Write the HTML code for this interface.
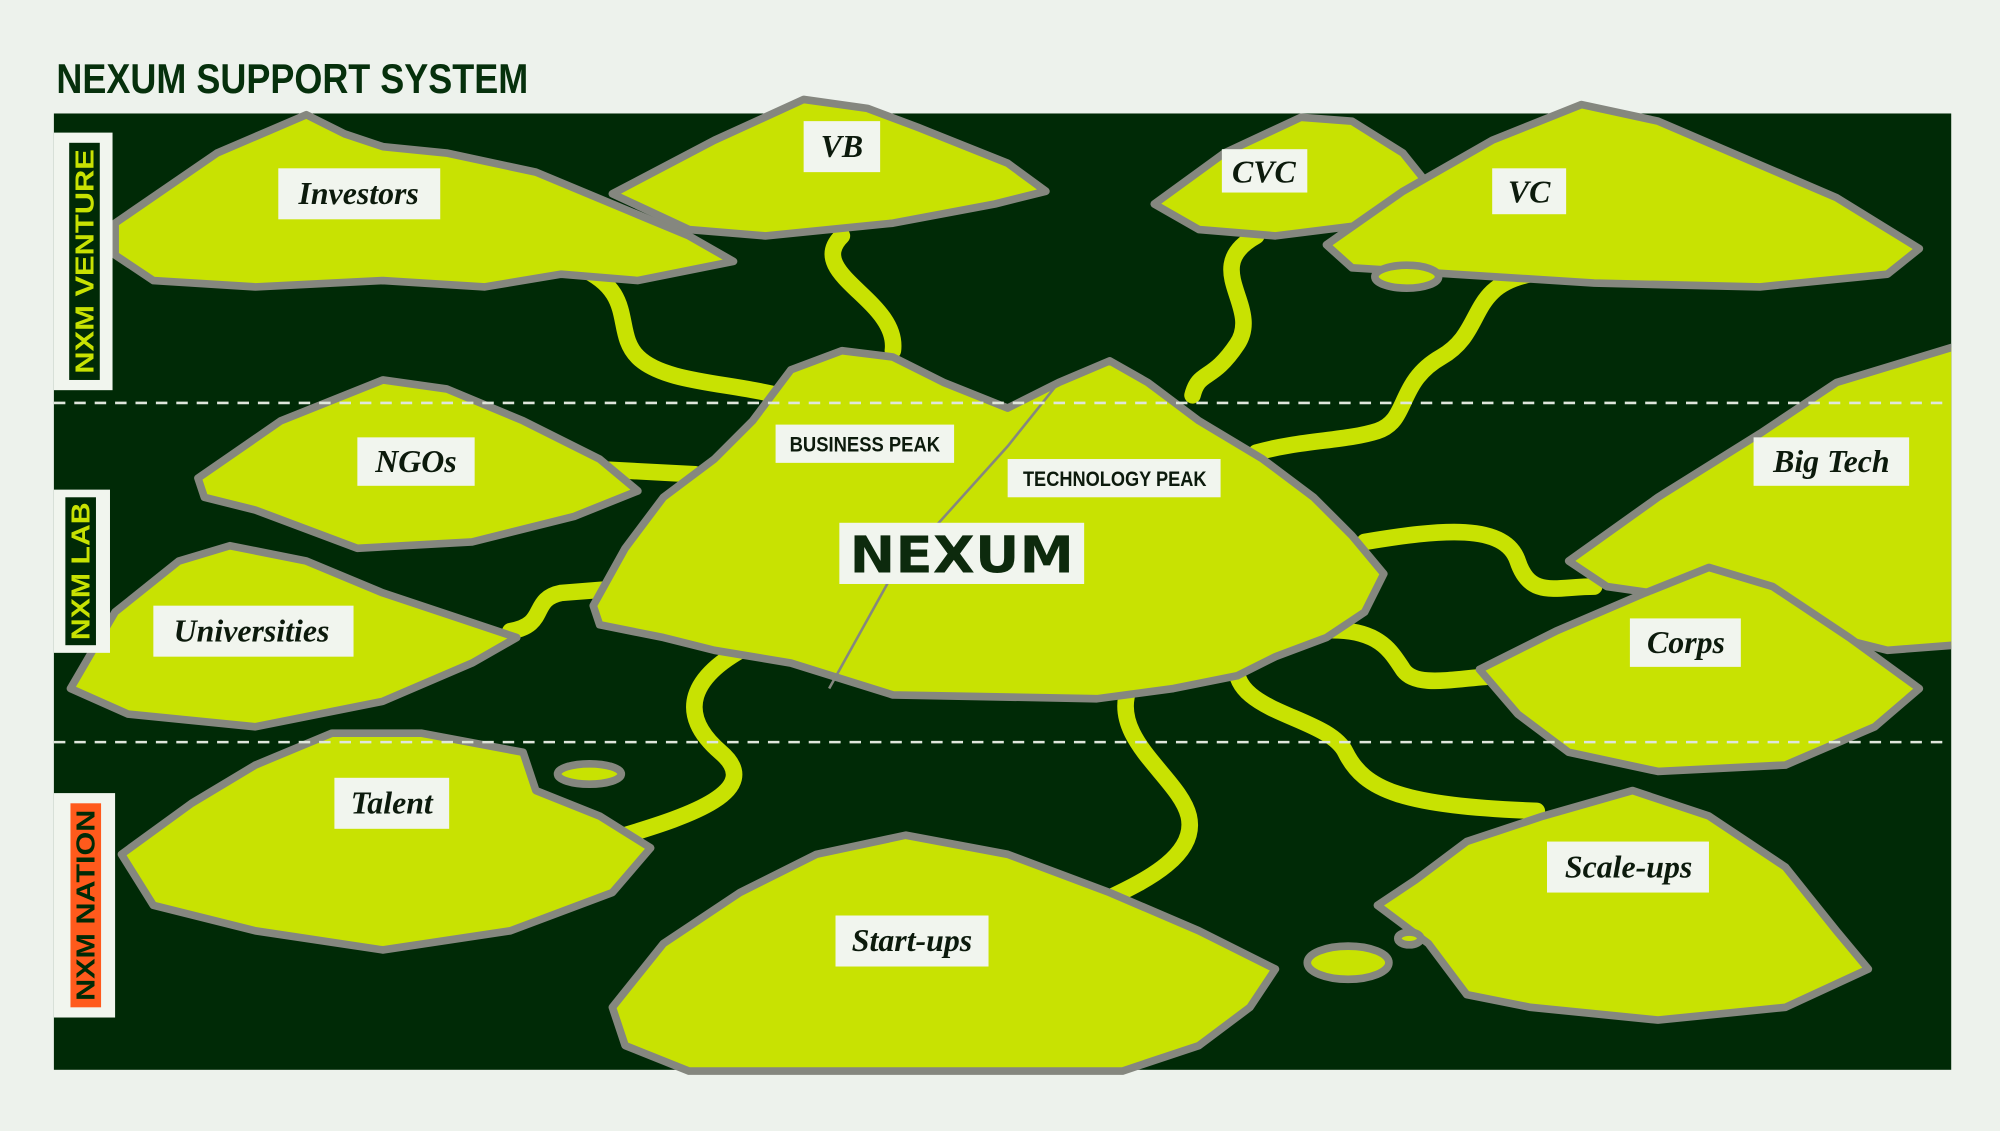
<!DOCTYPE html>
<html><head><meta charset="utf-8">
<style>
html,body{margin:0;padding:0;background:#edf2ec;}
svg{display:block;}
.lab{font-family:"Liberation Serif",serif;font-style:italic;font-weight:bold;font-size:25px;fill:#0c1a0c;text-anchor:middle;}
.pk{font-family:"Liberation Sans",sans-serif;font-size:17px;fill:#0c1a0c;text-anchor:middle;}
.mt{fill:#c8e202;stroke:#85877f;stroke-width:6;stroke-linejoin:round;}
.rv{fill:none;stroke:#c8e202;stroke-width:13;stroke-linecap:round;}
.pp{fill:#f1f5ee;}
</style></head>
<body>
<svg width="2000" height="1131" viewBox="0 0 1568 887" xmlns="http://www.w3.org/2000/svg">
<defs><clipPath id="fr"><rect x="42" y="60" width="1488" height="779"/></clipPath></defs>
<rect width="1568" height="887" fill="#edf2ec"/>
<text x="44" y="73" font-family="Liberation Sans, sans-serif" font-weight="bold" font-size="33" fill="#06300c" textLength="370" lengthAdjust="spacingAndGlyphs">NEXUM SUPPORT SYSTEM</text>
<rect x="42" y="89" width="1488" height="750" fill="#002a06"/>
<!-- rivers -->
<path class="rv" d="M455,210 C500,230 480,260 500,280 S570,300 610,310"/>
<path class="rv" d="M660,185 C630,215 705,235 700,275"/>
<path class="rv" d="M985,185 C940,210 990,240 970,270 S940,290 935,310"/>
<path class="rv" d="M1200,215 C1150,225 1165,260 1130,280 S1105,330 1080,338 S1020,345 985,355"/>
<path class="rv" d="M470,368 L545,372"/>
<path class="rv" d="M400,495 C430,490 415,470 440,465 L478,462"/>
<path class="rv" d="M1070,425 C1130,415 1180,410 1190,440 S1220,460 1250,460"/>
<path class="rv" d="M1030,495 C1080,490 1090,510 1100,525 S1140,532 1175,530"/>
<path class="rv" d="M590,505 C540,530 530,560 565,590 S540,640 490,655"/>
<path class="rv" d="M885,540 C870,580 925,610 932,640 S900,690 868,705"/>
<path class="rv" d="M970,515 C960,560 1040,560 1055,590 S1100,632 1205,636"/>
<!-- mountains -->
<polygon class="mt" points="90,175 170,120 240,90 270,105 300,115 350,120 420,135 480,160 540,185 575,205 500,220 440,215 380,225 300,220 200,225 120,220 90,200"/>
<polygon class="mt" points="480,152 560,110 630,78 680,85 720,100 790,128 820,150 780,160 700,175 600,185 540,180"/>
<polygon class="mt" points="905,160 960,120 1020,92 1060,95 1100,120 1120,145 1080,175 1000,185 940,180"/>
<polygon class="mt" points="1040,192 1100,150 1170,110 1240,82 1300,95 1370,125 1440,155 1505,195 1480,215 1380,225 1250,222 1140,215 1060,210"/>
<ellipse class="mt" cx="1103" cy="217" rx="25" ry="9"/>
<g clip-path="url(#fr)">
<polygon class="mt" points="1230,440 1300,390 1380,340 1440,300 1545,268 1545,505 1480,510 1400,490 1330,470 1260,460"/>
</g>
<polygon class="mt" points="155,375 220,330 300,298 350,305 410,330 470,360 500,385 450,405 370,425 280,430 200,400 160,390"/>
<polygon class="mt" points="55,540 90,480 140,440 180,428 240,440 300,465 360,485 405,500 370,520 300,550 200,570 100,560"/>
<polygon class="mt" points="465,475 490,430 520,390 560,360 590,330 620,290 660,275 700,280 740,300 790,320 830,300 870,283 900,300 940,330 990,360 1030,390 1060,420 1085,450 1070,480 1040,500 1000,515 970,530 920,540 860,548 700,545 620,520 560,510 520,500 470,490"/>
<path d="M830,300 L790,350 L700,450 L650,540" fill="none" stroke="#85877f" stroke-width="2"/>
<polygon class="mt" points="1160,525 1220,495 1290,465 1340,445 1390,460 1450,500 1505,540 1470,570 1400,600 1300,605 1230,590 1190,560"/>
<polygon class="mt" points="95,670 150,630 200,600 260,575 330,575 410,590 420,620 470,640 510,665 480,700 400,730 300,745 200,730 120,710"/>
<ellipse class="mt" cx="462" cy="607" rx="25" ry="8"/>
<polygon class="mt" points="480,790 520,740 580,700 640,670 710,655 790,670 870,700 940,730 1000,760 980,790 940,820 880,840 540,840 490,820"/>
<polygon class="mt" points="1080,710 1110,690 1150,660 1210,640 1280,620 1340,640 1400,680 1440,730 1465,760 1400,790 1300,800 1200,790 1150,780 1120,740"/>
<ellipse class="mt" cx="1057" cy="755" rx="32" ry="13"/>
<ellipse class="mt" cx="1105" cy="736" rx="9" ry="5"/>
<!-- dashed lines -->
<line x1="42" y1="316" x2="1530" y2="316" stroke="#dfe6dc" stroke-width="2" stroke-dasharray="9,7"/>
<line x1="42" y1="582" x2="1530" y2="582" stroke="#dfe6dc" stroke-width="2" stroke-dasharray="9,7"/>
<!-- left badges -->
<rect x="42" y="104" width="46" height="202" fill="#f1f5ee"/>
<rect x="54" y="112" width="24" height="186" fill="#002a06"/>
<text transform="translate(73,205) rotate(-90)" font-family="Liberation Sans,sans-serif" font-weight="bold" font-size="20" fill="#c8e202" text-anchor="middle" textLength="176" lengthAdjust="spacingAndGlyphs">NXM VENTURE</text>
<rect x="42" y="384" width="44" height="128" fill="#f1f5ee"/>
<rect x="51" y="390" width="24" height="116" fill="#002a06"/>
<text transform="translate(70,448) rotate(-90)" font-family="Liberation Sans,sans-serif" font-weight="bold" font-size="20" fill="#c8e202" text-anchor="middle" textLength="108" lengthAdjust="spacingAndGlyphs">NXM LAB</text>
<rect x="42" y="622" width="48" height="176" fill="#f1f5ee"/>
<rect x="55" y="630" width="24" height="160" fill="#ff5a1c"/>
<text transform="translate(74,710) rotate(-90)" font-family="Liberation Sans,sans-serif" font-weight="bold" font-size="20" fill="#002a06" text-anchor="middle" textLength="150" lengthAdjust="spacingAndGlyphs">NXM NATION</text>
<!-- labels -->
<rect class="pp" x="218" y="132" width="127" height="40"/><text class="lab" x="281" y="160">Investors</text>
<rect class="pp" x="630" y="95" width="60" height="40"/><text class="lab" x="660" y="123">VB</text>
<rect class="pp" x="958" y="117" width="67" height="34"/><text class="lab" x="991" y="143">CVC</text>
<rect class="pp" x="1170" y="132" width="58" height="36"/><text class="lab" x="1199" y="159">VC</text>
<rect class="pp" x="280" y="343" width="92" height="38"/><text class="lab" x="326" y="370">NGOs</text>
<rect class="pp" x="120" y="475" width="157" height="40"/><text class="lab" x="197" y="503">Universities</text>
<rect class="pp" x="262" y="610" width="90" height="40"/><text class="lab" x="307" y="638">Talent</text>
<rect class="pp" x="655" y="718" width="120" height="40"/><text class="lab" x="715" y="746">Start-ups</text>
<rect class="pp" x="1213" y="660" width="127" height="40"/><text class="lab" x="1277" y="688">Scale-ups</text>
<rect class="pp" x="1278" y="485" width="87" height="38"/><text class="lab" x="1322" y="512">Corps</text>
<rect class="pp" x="1375" y="343" width="122" height="38"/><text class="lab" x="1436" y="370">Big Tech</text>
<rect class="pp" x="608" y="333" width="140" height="30"/><text class="pk" x="678" y="354" font-weight="bold" textLength="118" lengthAdjust="spacingAndGlyphs">BUSINESS PEAK</text>
<rect class="pp" x="790" y="360" width="167" height="30"/><text class="pk" x="874" y="381" font-weight="bold" textLength="144" lengthAdjust="spacingAndGlyphs">TECHNOLOGY PEAK</text>
<rect class="pp" x="658" y="410" width="192" height="48"/>
<text x="754" y="449" font-family="DejaVu Sans,sans-serif" font-weight="bold" font-size="40" fill="#0d2a0d" text-anchor="middle" textLength="176" lengthAdjust="spacingAndGlyphs">NEXUM</text>
</svg>
</body></html>
